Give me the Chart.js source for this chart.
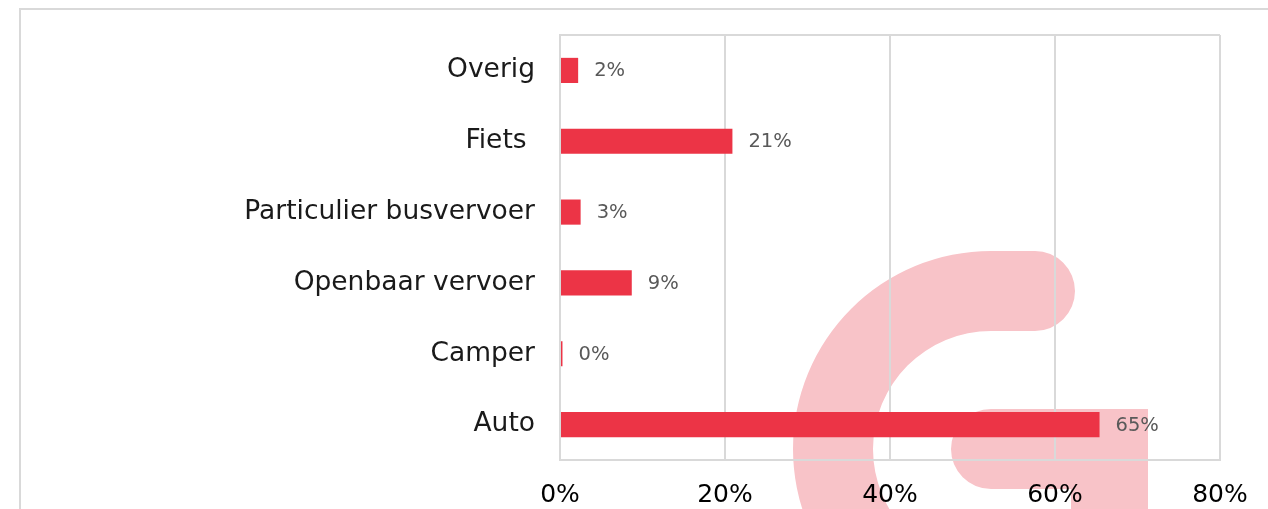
<!DOCTYPE html>
<html>
<head>
<meta charset="utf-8">
<script src="https://cdn.jsdelivr.net/npm/chart.js@4"></script>
<style>
  html, body { margin: 0; padding: 0; background: #fff; }
  #wrap { position: relative; width: 1268px; height: 509px; overflow: hidden; }
</style>
</head>
<body>
<div id="wrap"><canvas id="chart" width="1268" height="509"></canvas></div>
<script>
// categories, top to bottom
const categories = ['Overig', 'Fiets ', 'Particulier busvervoer', 'Openbaar vervoer', 'Camper', 'Auto'];
// share per category (%)
const shares = [2.2, 20.9, 2.5, 8.7, 0.3, 65.4];
const xTicks = [0, 20, 40, 60, 80];

const RED = '#ec3446';
const PINK = '#f8c3c8';
const GRID = '#d9d9d9';
const FONT = '"DejaVu Sans", sans-serif';

// pink logo behind the plot + outer frame
const backdrop = {
  id: 'backdrop',
  beforeDraw(chart) {
    const ctx = chart.ctx;
    ctx.save();
    ctx.fillStyle = PINK;
    const cx = 991, cy = 449;
    // ring
    ctx.beginPath();
    ctx.arc(cx, cy, 198, Math.PI / 2, Math.PI * 1.5);
    ctx.lineTo(1035, 251);
    ctx.arc(1035, 291, 40, -Math.PI / 2, Math.PI / 2);
    ctx.lineTo(cx, 331);
    ctx.arc(cx, cy, 118, Math.PI * 1.5, Math.PI / 2, true);
    ctx.closePath();
    ctx.fill();
    // crossbar + stem
    ctx.beginPath();
    ctx.arc(cx, cy, 40, Math.PI / 2, Math.PI * 1.5);
    ctx.lineTo(1148, 409);
    ctx.lineTo(1148, 520);
    ctx.lineTo(1071, 520);
    ctx.lineTo(1071, 489);
    ctx.closePath();
    ctx.fill();
    // outer frame
    ctx.strokeStyle = GRID;
    ctx.lineWidth = 2;
    ctx.beginPath();
    ctx.moveTo(20, 520);
    ctx.lineTo(20, 9);
    ctx.lineTo(1280, 9);
    ctx.stroke();
    ctx.restore();
  },
  afterDatasetsDraw(chart) {
    const { ctx, chartArea: a } = chart;
    ctx.save();
    // plot frame top
    ctx.strokeStyle = GRID;
    ctx.lineWidth = 2;
    ctx.beginPath();
    ctx.moveTo(a.left, a.top);
    ctx.lineTo(a.right, a.top);
    ctx.stroke();
    // value labels
    ctx.fillStyle = '#595959';
    ctx.font = '19.5px ' + FONT;
    ctx.textAlign = 'left';
    ctx.textBaseline = 'middle';
    chart.getDatasetMeta(0).data.forEach((bar, i) => {
      ctx.fillText(Math.round(shares[i]) + '%', bar.x + 16, bar.y + 1);
    });
    ctx.restore();
  }
};

new Chart(document.getElementById('chart'), {
  type: 'bar',
  data: {
    labels: categories,
    datasets: [{
      data: shares,
      backgroundColor: RED,
      categoryPercentage: 1,
      barPercentage: 0.355,
    }],
  },
  options: {
    indexAxis: 'y',
    responsive: false,
    animation: false,
    layout: { padding: { top: 35, right: 48, left: 0, bottom: 0 } },
    plugins: { legend: { display: false }, tooltip: { enabled: false } },
    scales: {
      x: {
        min: 0, max: 80,
        afterBuildTicks: s => { s.ticks = xTicks.map(v => ({ value: v })); },
        afterFit: s => { s.height = 49; },
        grid: { color: GRID, lineWidth: 2, drawTicks: false },
        border: { color: GRID, width: 2 },
        ticks: { color: '#000', padding: 20, font: { family: FONT, size: 25 }, callback: v => v + '%' },
      },
      y: {
        afterFit: s => { s.width = 560; s.paddingTop = 0; s.paddingBottom = 0; },
        grid: { display: false, drawTicks: false },
        border: { color: GRID, width: 2 },
        ticks: { color: '#1a1a1a', padding: 25, font: { family: FONT, size: 26.5 } },
      },
    },
  },
  plugins: [backdrop],
});
</script>
</body>
</html>
